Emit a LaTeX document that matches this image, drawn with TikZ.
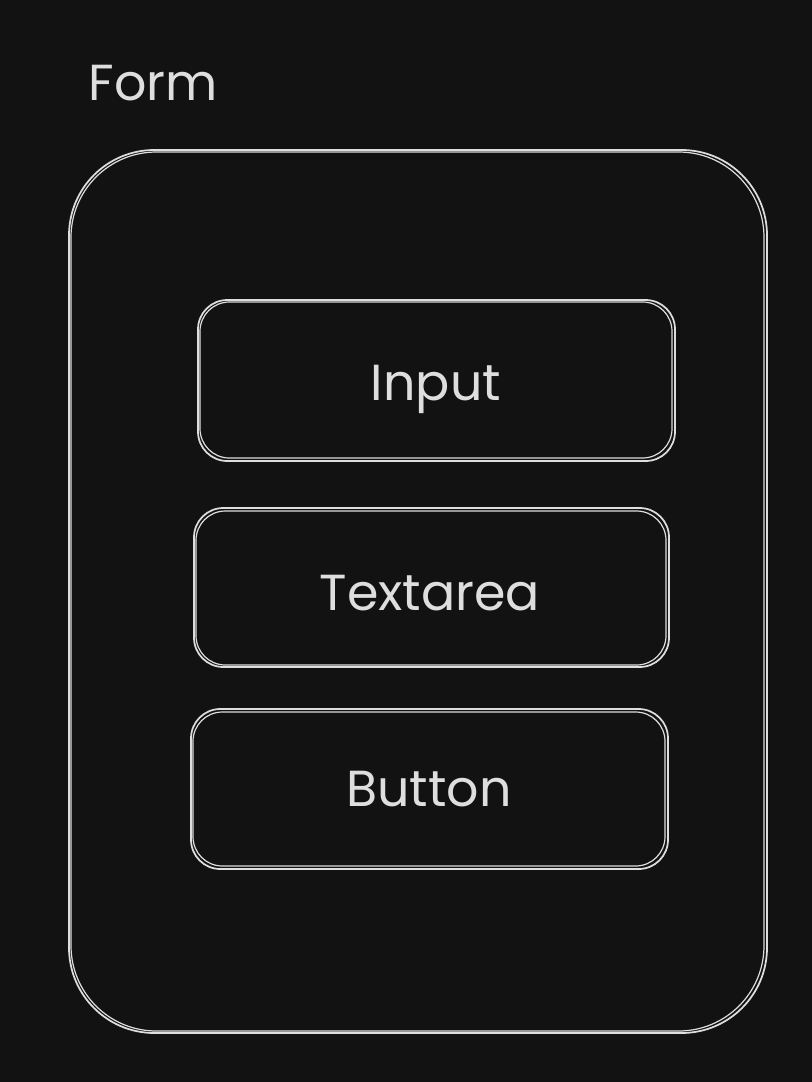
\documentclass[tikz,border=0pt]{standalone}
\usepackage{fontspec}
\setmainfont{Poppins}
\definecolor{canvas}{HTML}{121212}
\definecolor{chalk}{HTML}{DEDEDE}
\tikzset{
  panel/.style={draw=chalk, line width=1.3pt, rounded corners=22pt},
  frame/.style={draw=chalk, line width=1.3pt, rounded corners=64pt},
  label/.style={text=chalk, anchor=base, font=\fontsize{38}{44}\selectfont}
}

\begin{document}
\begin{tikzpicture}[x=0.75pt,y=-0.75pt]
\fill[canvas] (0,0) rectangle (812,1082);
% outer form
\draw[frame] (69,150) rectangle (767,1033);
\draw[frame, line width=0.9pt] (71,152) rectangle (764,1031);
\node[label] (form) at (153,100) {Form};
% fields
\draw[panel] (198,300) rectangle (675,461);
\draw[panel, line width=0.9pt] (200,302) rectangle (672,458);
\node[label] (input) at (436,400) {Input};
\draw[panel] (194,508) rectangle (669,667);
\draw[panel, line width=0.9pt] (196,511) rectangle (666,665);
\node[label] (textarea) at (430,610) {Textarea};
\draw[panel] (191,709) rectangle (668,869);
\draw[panel, line width=0.9pt] (193,712) rectangle (665,866);
\node[label] (button) at (429,806) {Button};
\end{tikzpicture}
\end{document}
